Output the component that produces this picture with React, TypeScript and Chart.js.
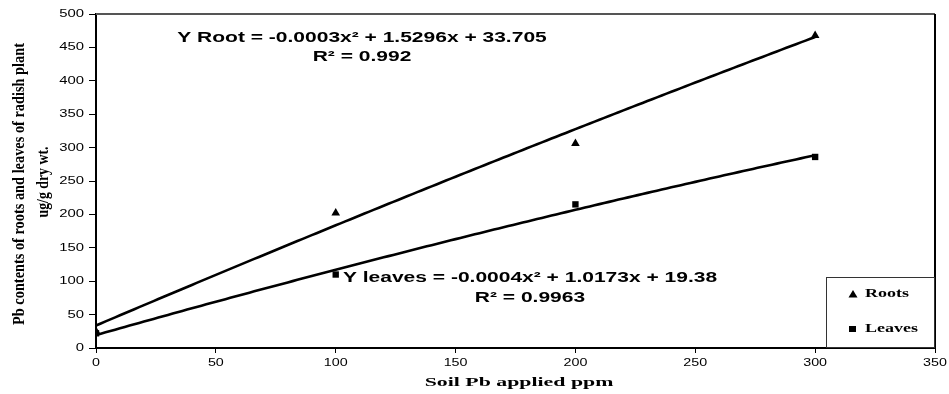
import React, { useEffect, useRef } from "react";
import { Chart, registerables } from "chart.js";

Chart.register(...registerables);

const doseX = [0, 100, 200, 300];
const rootsY = [25, 202, 306, 468];
const leavesY = [22, 110, 215, 286];
const rootCoef = [-0.0003, 1.5296, 33.705];
const leafCoef = [-0.0004, 1.0173, 19.38];
const xTicks = [0, 50, 100, 150, 200, 250, 300, 350];
const yTicks = [0, 50, 100, 150, 200, 250, 300, 350, 400, 450, 500];
const rootEq = "Y Root = -0.0003x² + 1.5296x + 33.705";
const rootR2 = "R² = 0.992";
const leafEq = "Y leaves = -0.0004x² + 1.0173x + 19.38";
const leafR2 = "R² = 0.9963";
const yTitle1 = "Pb contents of roots and leaves of radish plant";
const yTitle2 = "ug/g dry wt.";
const xTitle = "Soil Pb applied ppm";
const seriesNames = ["Roots", "Leaves"];

const SANS = "'Liberation Sans', Arial, sans-serif";
const SERIF = "'Liberation Serif', 'Times New Roman', serif";

function stretchText(
  ctx: CanvasRenderingContext2D,
  text: string,
  x: number,
  y: number,
  font: string,
  sx: number,
  align: CanvasTextAlign
) {
  ctx.save();
  ctx.font = font;
  ctx.textAlign = align;
  ctx.textBaseline = "middle";
  ctx.translate(x, y);
  ctx.scale(sx, 1);
  ctx.fillText(text, 0, 0);
  ctx.restore();
}

const trendPlugin = {
  id: "trend",
  beforeDatasetsDraw(chart: any) {
    const { ctx, scales } = chart;
    const xs = scales.x;
    const ys = scales.y;
    const draw = (coef: number[], xMax: number) => {
      ctx.save();
      ctx.beginPath();
      for (let x = 0; x <= xMax; x += 2) {
        const y = coef[0] * x * x + coef[1] * x + coef[2];
        const px = xs.getPixelForValue(x);
        const py = ys.getPixelForValue(y);
        if (x === 0) ctx.moveTo(px, py);
        else ctx.lineTo(px, py);
      }
      ctx.strokeStyle = "#000";
      ctx.lineWidth = 2.6;
      ctx.lineJoin = "round";
      ctx.stroke();
      ctx.restore();
    };
    draw(rootCoef, doseX[doseX.length - 1]);
    draw(leafCoef, doseX[doseX.length - 1]);
  },
};

const decorPlugin = {
  id: "decor",
  afterDraw(chart: any) {
    const { ctx, chartArea, scales } = chart;
    const { left, right, top, bottom } = chartArea;
    ctx.save();
    // top border
    ctx.strokeStyle = "#555";
    ctx.lineWidth = 2;
    ctx.beginPath();
    ctx.moveTo(left, top);
    ctx.lineTo(right, top);
    ctx.stroke();
    // right border
    ctx.strokeStyle = "#000";
    ctx.beginPath();
    ctx.moveTo(right, top);
    ctx.lineTo(right, bottom + 1);
    ctx.stroke();

    ctx.fillStyle = "#000";
    // tick labels
    for (const v of yTicks) {
      stretchText(ctx, String(v), 84, scales.y.getPixelForValue(v), "11px " + SANS, 1.35, "right");
    }
    for (const v of xTicks) {
      stretchText(ctx, String(v), scales.x.getPixelForValue(v), 363, "11px " + SANS, 1.3, "center");
    }

    // equations
    const eqFont = "bold 14px " + SANS;
    stretchText(ctx, rootEq, 362, 38, eqFont, 1.5, "center");
    stretchText(ctx, rootR2, 362, 57, eqFont, 1.5, "center");
    stretchText(ctx, leafEq, 530, 278, eqFont, 1.5, "center");
    stretchText(ctx, leafR2, 530, 298, eqFont, 1.5, "center");

    // x title
    stretchText(ctx, xTitle, 519, 383, "bold 13px " + SERIF, 1.68, "center");

    // y title (condensed)
    const drawCondensed = (text: string, cx: number, cy: number, len: number, size: number) => {
      ctx.save();
      ctx.translate(cx, cy);
      ctx.rotate(-Math.PI / 2);
      ctx.font = "bold " + size + "px " + SERIF;
      const w = ctx.measureText(text).width;
      ctx.scale(len / w, 1);
      ctx.textAlign = "center";
      ctx.textBaseline = "middle";
      ctx.fillText(text, 0, 0);
      ctx.restore();
    };
    drawCondensed(yTitle1, 20, 184, 282, 16);
    drawCondensed(yTitle2, 44, 182, 71, 16);

    // legend
    const lx = 826;
    const ly = 277;
    ctx.fillStyle = "#fff";
    ctx.fillRect(lx, ly, right - lx, bottom - ly);
    ctx.strokeStyle = "#333";
    ctx.lineWidth = 1;
    ctx.strokeRect(lx + 0.5, ly + 0.5, right - lx - 1, bottom - ly - 1);
    ctx.fillStyle = "#000";
    ctx.beginPath();
    ctx.moveTo(853, 290);
    ctx.lineTo(857.5, 297.5);
    ctx.lineTo(848.5, 297.5);
    ctx.closePath();
    ctx.fill();
    ctx.fillRect(849, 326, 7, 6);
    const legFont = "bold 12px " + SERIF;
    stretchText(ctx, seriesNames[0], 865, 294, legFont, 1.5, "left");
    stretchText(ctx, seriesNames[1], 865, 329, legFont, 1.5, "left");
    ctx.restore();
  },
};

export default function App() {
  const ref = useRef<HTMLCanvasElement | null>(null);
  useEffect(() => {
    document.body.style.margin = "0";
    const canvas = ref.current;
    if (!canvas) return;
    const chart = new Chart(canvas, {
      type: "scatter",
      data: {
        datasets: [
          {
            label: seriesNames[0],
            data: doseX.map((x, i) => ({ x, y: rootsY[i] })),
            pointStyle: "triangle",
            pointRadius: 5,
            backgroundColor: "#000",
            borderColor: "#000",
            borderWidth: 0,
            showLine: false,
          },
          {
            label: seriesNames[1],
            data: doseX.map((x, i) => ({ x, y: leavesY[i] })),
            pointStyle: "rect",
            pointRadius: 4.5,
            backgroundColor: "#000",
            borderColor: "#000",
            borderWidth: 0,
            showLine: false,
          },
        ],
      },
      options: {
        responsive: false,
        animation: false,
        layout: { padding: { left: 0, top: 14, right: 14, bottom: 0 } },
        plugins: { legend: { display: false }, tooltip: { enabled: false } },
        scales: {
          x: {
            type: "linear",
            min: 0,
            max: 350,
            afterFit: (s: any) => {
              s.height = 46;
            },
            afterBuildTicks: (s: any) => {
              s.ticks = xTicks.map((v) => ({ value: v }));
            },
            border: { display: true, color: "#000", width: 2 },
            grid: { drawOnChartArea: false, color: "#000", tickLength: 5 },
            ticks: { display: false },
          },
          y: {
            type: "linear",
            min: 0,
            max: 500,
            afterFit: (s: any) => {
              s.width = 96;
            },
            afterBuildTicks: (s: any) => {
              s.ticks = yTicks.map((v) => ({ value: v }));
            },
            border: { display: true, color: "#000", width: 2 },
            grid: { drawOnChartArea: false, color: "#000", tickLength: 7 },
            ticks: { display: false },
          },
        },
      },
      plugins: [trendPlugin, decorPlugin],
    } as any);
    return () => chart.destroy();
  }, []);
  return <canvas ref={ref} width={949} height={394} style={{ display: "block" }} />;
}
